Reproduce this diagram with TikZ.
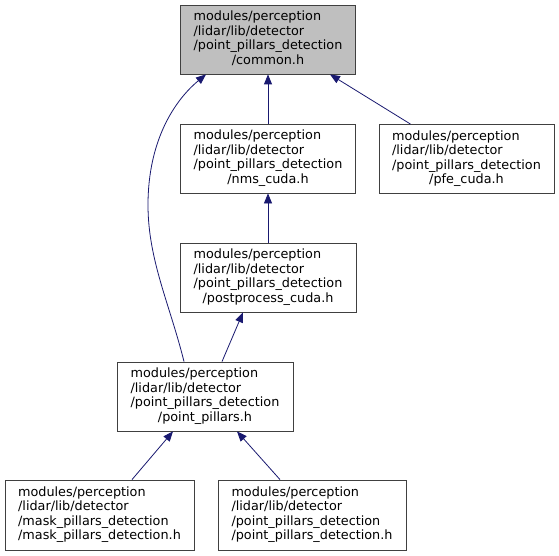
\documentclass[tikz,border=0pt]{standalone}
\usepackage{fontspec}
\setmainfont{DejaVu Sans}
\usetikzlibrary{arrows.meta}
\definecolor{edgeblue}{HTML}{191970}
\definecolor{boxline}{HTML}{404040}
\definecolor{curfill}{HTML}{BFBFBF}
\newcommand{\flab}[4]{\begin{tabular}{@{}l@{}}#1\\#2\\#3\\\multicolumn{1}{@{}c@{}}{#4}\end{tabular}}
\begin{document}
\begin{tikzpicture}[x=1bp,y=-1bp,
  filebox/.style={draw=boxline,line width=0.8bp,fill=white,inner sep=0pt,
    minimum height=69bp,font=\fontsize{12.8bp}{14.5bp}\selectfont},
  curbox/.style={filebox,fill=curfill},
  dep/.style={draw=edgeblue,line width=0.8bp,-{Triangle[length=10bp,width=8bp]},fill=none},
]
\useasboundingbox (0,0) rectangle (559,556);
\fill[white] (0,0) rectangle (559,556);
\node[curbox,minimum width=175bp] (common) at (268,39.5)
  {\flab{modules/perception}{/lidar/lib/detector}{/point\_pillars\_detection}{/common.h}};
\node[filebox,minimum width=175bp] (nms) at (268,158.5)
  {\flab{modules/perception}{/lidar/lib/detector}{/point\_pillars\_detection}{/nms\_cuda.h}};
\node[filebox,minimum width=175bp] (pfe) at (466.5,159)
  {\flab{modules/perception}{/lidar/lib/detector}{/point\_pillars\_detection}{/pfe\_cuda.h}};
\node[filebox,minimum width=176bp] (post) at (268,277.5)
  {\flab{modules/perception}{/lidar/lib/detector}{/point\_pillars\_detection}{/postprocess\_cuda.h}};
\node[filebox,minimum width=176bp] (pp) at (205,396.5)
  {\flab{modules/perception}{/lidar/lib/detector}{/point\_pillars\_detection}{/point\_pillars.h}};
\node[filebox,minimum width=189bp,minimum height=70bp] (mask) at (99.5,515)
  {\flab{modules/perception}{/lidar/lib/detector}{/mask\_pillars\_detection}{/mask\_pillars\_detection.h}};
\node[filebox,minimum width=188bp,minimum height=70bp] (ppd) at (312,515)
  {\flab{modules/perception}{/lidar/lib/detector}{/point\_pillars\_detection}{/point\_pillars\_detection.h}};
\draw[dep] (nms.north) -- (common.south);
\draw[dep] ([xshift=-56bp]pfe.north) -- ([xshift=62bp]common.south);
\draw[dep] (post.north) -- (nms.south);
\draw[dep] ([xshift=17bp]pp.north) -- ([xshift=-25bp]post.south);
\draw[dep] ([xshift=-21bp]pp.north) .. controls (170,305) and (148,260) .. (148,205)
  .. controls (148,140) and (175,100) .. ([xshift=-62bp]common.south);
\draw[dep] ([xshift=32.5bp]mask.north) -- ([xshift=-32bp]pp.south);
\draw[dep] ([xshift=-32bp]ppd.north) -- ([xshift=32bp]pp.south);
\end{tikzpicture}
\end{document}
